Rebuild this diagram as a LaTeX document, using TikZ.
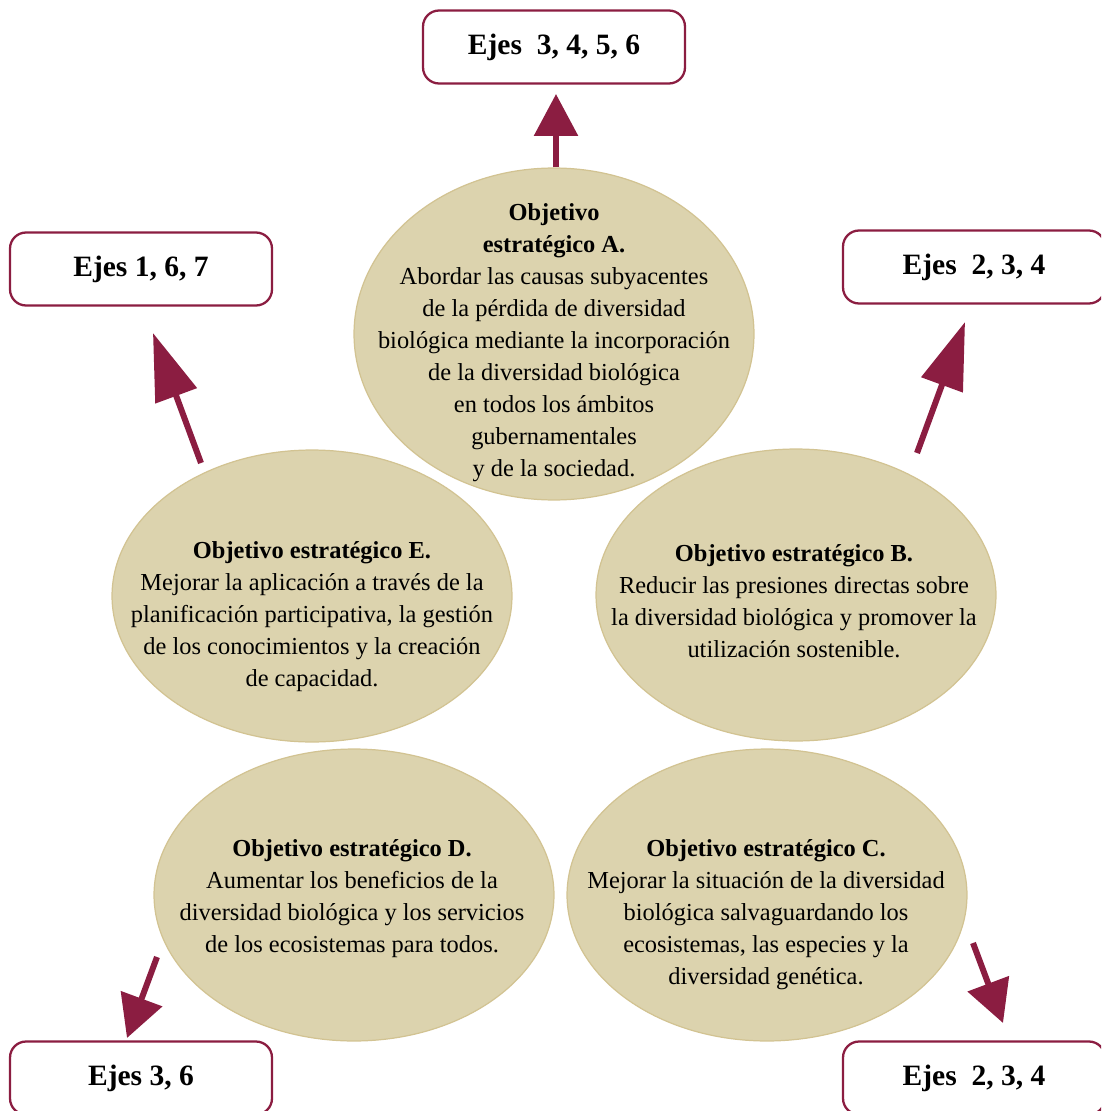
\documentclass[tikz,border=0pt]{standalone}
\usepackage{fontspec}
\setmainfont{Liberation Serif}
\usetikzlibrary{shapes.geometric,arrows.meta}
\definecolor{vino}{RGB}{139,29,65}
\definecolor{arena}{RGB}{220,211,174}
\definecolor{arenaborde}{RGB}{210,195,146}

\begin{document}
\begin{tikzpicture}[x=0.02cm,y=-0.02cm,
  objetivo/.style={ellipse,draw=arenaborde,line width=0.7pt,fill=arena,minimum width=8cm,minimum height=5.84cm,inner sep=0pt},
  texto/.style={align=center,font=\fontsize{13.9}{18.2}\selectfont,inner sep=0pt},
  ejes/.style={rectangle,rounded corners=0.32cm,draw=vino,line width=1.3pt,fill=white,minimum width=5.24cm,minimum height=1.46cm,font=\fontsize{16.8}{19}\selectfont\bfseries},
  flecha/.style={draw=vino,line width=0.12cm,-{Triangle[length=0.84cm,width=0.86cm]}},
  flechalarga/.style={draw=vino,line width=0.12cm,-{Triangle[length=1.34cm,width=0.86cm]}}]
\clip (0,0) rectangle (1101,1111);
\useasboundingbox (0,0) rectangle (1101,1111);
% \draw[help lines] (0,0) grid (1101,1111);
\node (objA) [objetivo,minimum height=6.64cm] at (554,334) {};
\node (objE) [objetivo] at (312,596) {};
\node (objB) [objetivo] at (796,595) {};
\node (objD) [objetivo] at (354,895) {};
\node (objC) [objetivo] at (767,895) {};
%
\node (txtA) [texto] at (554,343) {\textbf{Objetivo}\\ \textbf{estratégico A.}\\ Abordar las causas subyacentes\\ de la pérdida de diversidad\\ biológica mediante la incorporación\\ de la diversidad biológica\\ en todos los ámbitos\\ gubernamentales\\ y de la sociedad.};
\node (txtE) [texto] at (312,617) {\textbf{Objetivo estratégico E.}\\ Mejorar la aplicación a través de la\\ planificación participativa, la gestión\\ de los conocimientos y la creación\\ de capacidad.};
\node (txtB) [texto] at (794,601) {\textbf{Objetivo estratégico B.}\\ Reducir las presiones directas sobre\\ la diversidad biológica y promover la\\ utilización sostenible.};
\node (txtD) [texto] at (352,899) {\textbf{Objetivo estratégico D.}\\ Aumentar los beneficios de la\\ diversidad biológica y los servicios\\ de los ecosistemas para todos.};
\node (txtC) [texto] at (766,915) {\textbf{Objetivo estratégico C.}\\ Mejorar la situación de la diversidad\\ biológica salvaguardando los\\ ecosistemas, las especies y la\\ diversidad genética.};
%
\node (ejesA) [ejes] at (554,47) {Ejes\ \ 3, 4, 5, 6};
\node (ejesE) [ejes] at (141,269) {Ejes 1, 6, 7};
\node (ejesB) [ejes] at (974,267) {Ejes\ \ 2, 3, 4};
\node (ejesD) [ejes] at (141,1078) {Ejes 3, 6};
\node (ejesC) [ejes] at (974,1078) {Ejes\ \ 2, 3, 4};
%
\coordinate (puntaA) at (556,94);
\coordinate (colaE) at (201,463);
\coordinate (puntaE) at (153,333);
\coordinate (colaB) at (917,453);
\coordinate (puntaB) at (965,322);
\coordinate (colaD) at (157,957);
\coordinate (puntaD) at (127,1038);
\coordinate (colaC) at (973,943);
\coordinate (puntaC) at (1003,1023);
%
\path[flecha] (objA.north -| puntaA) -- (puntaA);
\path[flechalarga] (colaE) -- (puntaE);
\path[flechalarga] (colaB) -- (puntaB);
\path[flecha] (colaD) -- (puntaD);
\path[flecha] (colaC) -- (puntaC);
\end{tikzpicture}
\end{document}
